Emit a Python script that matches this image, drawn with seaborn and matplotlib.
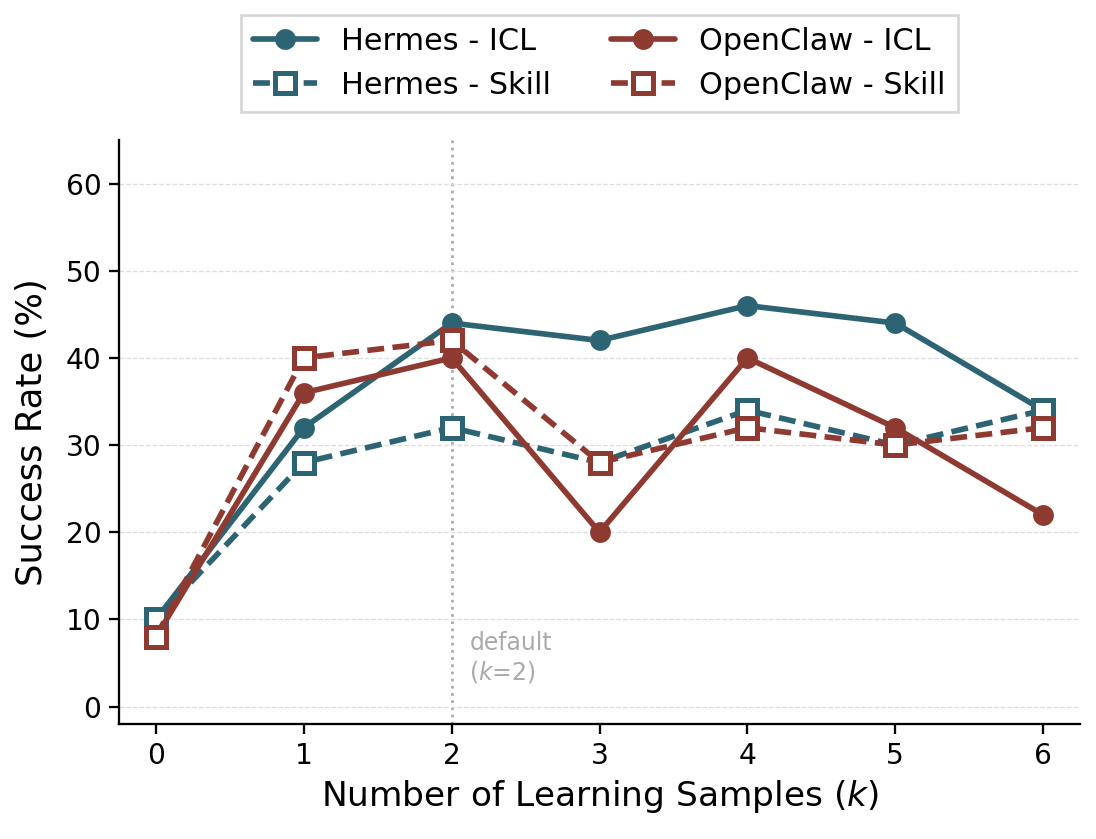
import matplotlib
matplotlib.use("Agg")
import matplotlib.pyplot as plt
import seaborn as sns
import pandas as pd

# data
k_values = [0, 1, 2, 3, 4, 5, 6]
hermes_icl = [10, 32, 44, 42, 46, 44, 34]
hermes_skill = [10, 28, 32, 28, 34, 30, 34]
openclaw_icl = [8, 36, 40, 20, 40, 32, 22]
openclaw_skill = [8, 40, 42, 28, 32, 30, 32]

HERMES = "#2d6473"
OPENCLAW = "#8f3a31"

series = [
    ("Hermes - ICL", hermes_icl, HERMES, "o", "-"),
    ("Hermes - Skill", hermes_skill, HERMES, "s", "--"),
    ("OpenClaw - ICL", openclaw_icl, OPENCLAW, "o", "-"),
    ("OpenClaw - Skill", openclaw_skill, OPENCLAW, "s", "--"),
]

sns.set_style("ticks")
plt.rcParams["font.family"] = ["DejaVu Sans"]
plt.rcParams.update({
    "text.color": "black", "axes.labelcolor": "black",
    "xtick.color": "black", "ytick.color": "black",
    "axes.edgecolor": "black", "axes.linewidth": 1.1,
})

fig, ax = plt.subplots(figsize=(1096 / 150, 839 / 150), dpi=150)
fig.subplots_adjust(left=119 / 1096, right=1080 / 1096, top=1 - 140 / 839, bottom=1 - 724 / 839)

for name, vals, color, marker, ls in series:
    df = pd.DataFrame({"k": k_values, "rate": vals})
    filled = marker == "o"
    sns.lineplot(
        data=df, x="k", y="rate", ax=ax, label=name, color=color,
        linestyle=ls, linewidth=2.7, marker=marker,
        markersize=10,
        markerfacecolor=color if filled else "white",
        markeredgecolor=color, markeredgewidth=0 if filled else 2.4,
    )
    if ls == "--":
        ax.get_lines()[-1].set_dashes((3.0, 1.5))

ax.axvline(2, color="#aaaaaa", linestyle=":", linewidth=1.3, zorder=0)
ax.text(2.12, 2.5, "default\n($k$=2)", color="#aaaaaa", fontsize=11.3, ha="left", va="bottom")

ax.set_xlim(-0.25, 6.25)
ax.set_ylim(-2, 65)
ax.set_xticks(k_values)
ax.set_yticks([0, 10, 20, 30, 40, 50, 60])
ax.tick_params(labelsize=13.5, width=1.1, length=5)
ax.yaxis.grid(True, linestyle="--", color="#dddddd", linewidth=0.6)
ax.set_axisbelow(True)
ax.set_xlabel("Number of Learning Samples ($k$)", fontsize=16.5)
ax.set_ylabel("Success Rate (%)", fontsize=17, labelpad=8)
sns.despine(ax=ax)

leg = ax.legend(loc="lower center", bbox_to_anchor=(0.5, 1.048), ncol=2, fontsize=14.5,
                frameon=True, fancybox=False, edgecolor="#cccccc", handlelength=2.1,
                borderaxespad=0, columnspacing=2.0, labelspacing=0.5)
leg.get_frame().set_linewidth(1.3)

fig.savefig("out.png", dpi=150)
